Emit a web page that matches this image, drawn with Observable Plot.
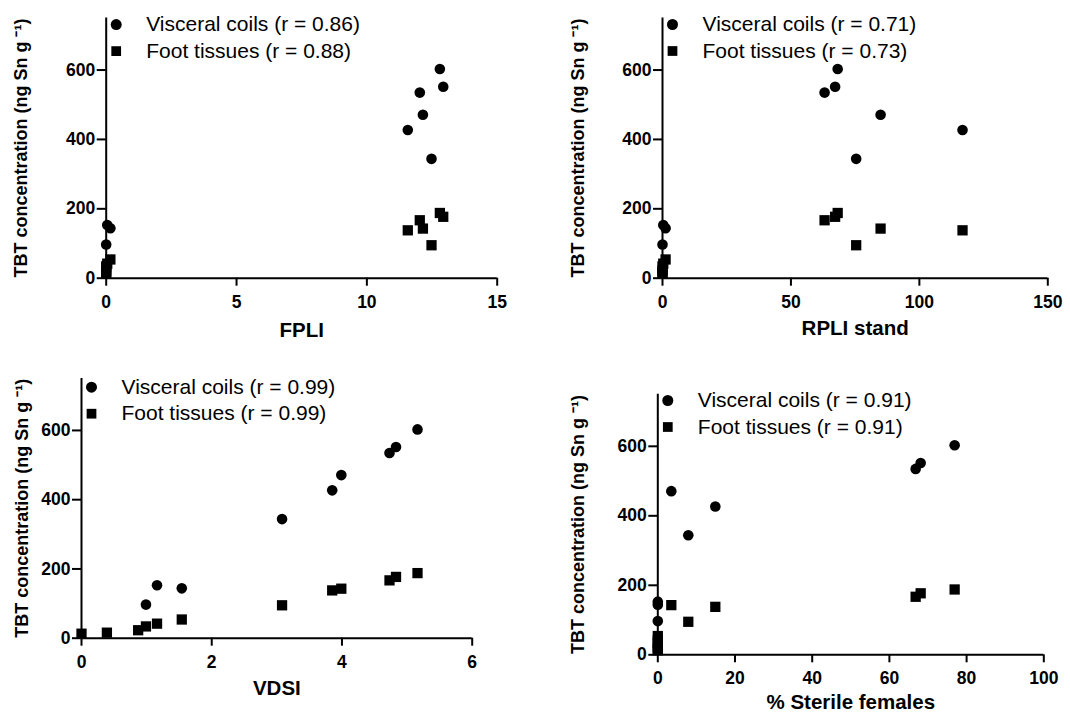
<!DOCTYPE html>
<html>
<head>
<meta charset="utf-8">
<script src="https://cdn.jsdelivr.net/npm/d3@7"></script>
<script src="https://cdn.jsdelivr.net/npm/@observablehq/plot@0.6"></script>
<style>
  body { margin: 0; background: #fff; }
  #chart { position: relative; width: 1070px; height: 712px; font-family: "Liberation Sans", Arial, Helvetica, sans-serif; }
  #chart svg { position: absolute; }
</style>
</head>
<body>
<div id="chart"></div>
<script>
// ---- Data (one entry per sampling site, ordered by VDSI) ----
const vdsi     = [0, 0.39, 0.87, 0.99, 1.16, 1.54, 3.08, 3.85, 3.99, 4.73, 4.83, 5.16];
const fpli     = [0, 0, 0, 0, 0.04, 0.16, 12.48, 11.57, 12.15, 12.03, 12.93, 12.80];
const rpliStand= [0, 0, 0, 0, 0.3, 1.2, 75.4, 116.8, 84.9, 63.1, 67.2, 68.2];
const sterile  = [0, 0, 0, 0, 0, 0, 7.9, 14.9, 3.5, 66.8, 68.1, 76.9];
const visceral = [null, null, null, 97, 153, 144, 344, 427, 471, 535, 552, 603];
const foot     = [13, 16, 23, 34, 42, 54, 95, 138, 143, 167, 177, 188];

const seriesNames = ["Visceral coils", "Foot tissues"];
const rFPLI    = [0.86, 0.88];
const rRPLI    = [0.71, 0.73];
const rVDSI    = [0.99, 0.99];
const rSterile = [0.91, 0.91];

const xTicksFPLI    = [0, 5, 10, 15];
const xTicksRPLI    = [0, 50, 100, 150];
const xTicksVDSI    = [0, 2, 4, 6];
const xTicksSterile = [0, 20, 40, 60, 80, 100];
const yTicks = [0, 200, 400, 600];
const yMax = 750;

const xLabels = ["FPLI", "RPLI stand", "VDSI", "% Sterile females"];
const yLabel = "TBT concentration (ng Sn g \u207B\u00B9)";

// ---- Panels ----
const panels = [
  {xs: fpli,      r: rFPLI,    ticks: xTicksFPLI,    label: xLabels[0],
   box: {left: 0,   top: 0,   width: 535, height: 345, ml: 105.7, mr: 38.3, mt: 17.5, mb: 67.3}, yLabX: 20.8, xLabDy: 52, legDy: 6.6},
  {xs: rpliStand, r: rRPLI,    ticks: xTicksRPLI,    label: xLabels[1],
   box: {left: 535, top: 0,   width: 535, height: 345, ml: 127,   mr: 22.7, mt: 17.5, mb: 67.3}, yLabX: 42.3, xLabDy: 50, legDy: 6.5},
  {xs: vdsi,      r: rVDSI,    ticks: xTicksVDSI,    label: xLabels[2],
   box: {left: 0,   top: 345, width: 535, height: 367, ml: 81,    mr: 63.3, mt: 33,   mb: 74.3}, yLabX: 21.7, xLabDy: 50, legDy: 8.7},
  {xs: sterile,   r: rSterile, ticks: xTicksSterile, label: xLabels[3],
   box: {left: 535, top: 345, width: 535, height: 367, ml: 122.3, mr: 26.7, mt: 48.7, mb: 57.7}, yLabX: 42.3, xLabDy: 47.5, legDy: 6.3}
];

const font = '"Liberation Sans", Arial, Helvetica, sans-serif';
const chart = document.getElementById("chart");

panels.forEach(p => {
  const rows = p.xs.map((x, i) => ({x, visceral: visceral[i], foot: foot[i]}));
  const b = p.box;
  const legend = seriesNames.map((n, i) => `${n} (r = ${p.r[i].toFixed(2)})`);
  const svg = Plot.plot({
    width: b.width, height: b.height,
    marginLeft: b.ml, marginRight: b.mr, marginTop: b.mt, marginBottom: b.mb,
    x: {domain: [0, p.ticks[p.ticks.length - 1]]},
    y: {domain: [0, yMax]},
    style: {fontFamily: font, color: "black", background: "transparent", overflow: "visible"},
    marks: [
      Plot.ruleY([0], {stroke: "black", strokeWidth: 2}),
      Plot.ruleX([0], {stroke: "black", strokeWidth: 2}),
      Plot.axisX({ticks: p.ticks, tickSize: 8, tickPadding: 9, fontSize: 17.5, fontWeight: "bold", strokeWidth: 2, label: null, tickFormat: d => String(d)}),
      Plot.axisY({ticks: yTicks, tickSize: 9, tickPadding: 2, fontSize: 17.5, fontWeight: "bold", strokeWidth: 2, label: null, tickFormat: d => String(d)}),
      Plot.dot(rows.filter(d => d.visceral != null), {x: "x", y: "visceral", symbol: "circle", r: 5.3, fill: "black", stroke: "none"}),
      Plot.dot(rows, {x: "x", y: "foot", symbol: "square", r: 5.8, fill: "black", stroke: "none"}),
      // legend
      Plot.dot([0], {frameAnchor: "top-left", dx: 10, dy: p.legDy, symbol: "circle", r: 5.5, fill: "black", stroke: "none"}),
      Plot.dot([0], {frameAnchor: "top-left", dx: 10, dy: p.legDy + 26.5, symbol: "square", r: 5.5, fill: "black", stroke: "none"}),
      Plot.text([legend[0]], {frameAnchor: "top-left", text: d => d, dx: 40, dy: p.legDy, textAnchor: "start", lineAnchor: "middle", fontSize: 21, fill: "black"}),
      Plot.text([legend[1]], {frameAnchor: "top-left", text: d => d, dx: 40, dy: p.legDy + 26.5, textAnchor: "start", lineAnchor: "middle", fontSize: 21, fill: "black"}),
      // axis titles
      Plot.text([p.label], {frameAnchor: "bottom", text: d => d, dy: p.xLabDy, lineAnchor: "middle", fontSize: 20.5, fontWeight: "bold", fill: "black"}),
      Plot.text([yLabel], {frameAnchor: "left", text: d => d, dx: p.yLabX - b.ml, rotate: -90, textAnchor: "middle", lineAnchor: "middle", fontSize: 18, fontWeight: "bold", fill: "black"})
    ]
  });
  svg.style.left = b.left + "px";
  svg.style.top = b.top + "px";
  chart.appendChild(svg);
});
</script>
</body>
</html>
